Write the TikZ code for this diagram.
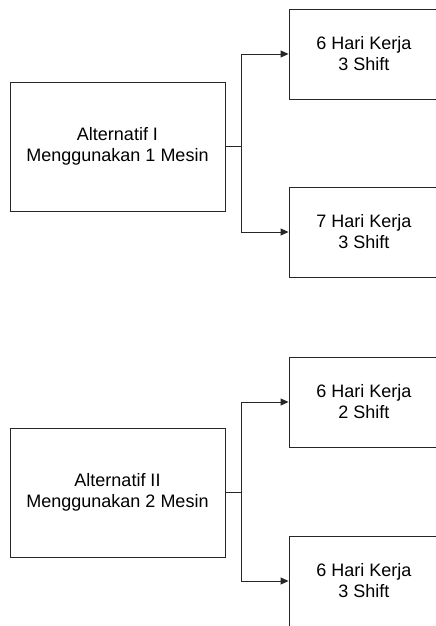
\documentclass[tikz,border=0pt]{standalone}
\usepackage{fontspec}
\setmainfont{Liberation Sans}
\usetikzlibrary{arrows.meta}
\begin{document}
\begin{tikzpicture}[x=1pt,y=-1pt,
  box/.style={draw=black!85,line width=0.9pt,rectangle,inner sep=0pt,align=center,
    font=\fontsize{18}{21}\selectfont},
  conn/.style={draw=black!85,line width=0.9pt},
  arr/.style={conn,-{Triangle[length=8pt,width=7pt]}}]
\useasboundingbox (0,0) rectangle (436,626);
\clip (0,0) rectangle (436,626);
% group 1
\node[box,minimum width=215pt,minimum height=129pt] (a1) at (117.5,146.5) {Alternatif I\\Menggunakan 1 Mesin};
\node[box,minimum width=150pt,minimum height=90pt] (b1) at (364,54) {6 Hari Kerja\\3 Shift};
\node[box,minimum width=150pt,minimum height=90pt] (b2) at (364,232) {7 Hari Kerja\\3 Shift};
\coordinate (j1) at (241,146.5);
\draw[conn] (a1.east) -- (j1);
\draw[arr] (j1) |- (b1.west);
\draw[arr] (j1) |- (b2.west);
% group 2
\node[box,minimum width=215pt,minimum height=129pt] (a2) at (117.5,492.5) {Alternatif II\\Menggunakan 2 Mesin};
\node[box,minimum width=150pt,minimum height=90pt] (c1) at (364,402) {6 Hari Kerja\\2 Shift};
\node[box,minimum width=150pt,minimum height=90pt] (c2) at (364,581) {6 Hari Kerja\\3 Shift};
\coordinate (j2) at (241,492.5);
\draw[conn] (a2.east) -- (j2);
\draw[arr] (j2) |- (c1.west);
\draw[arr] (j2) |- (c2.west);
\end{tikzpicture}
\end{document}
